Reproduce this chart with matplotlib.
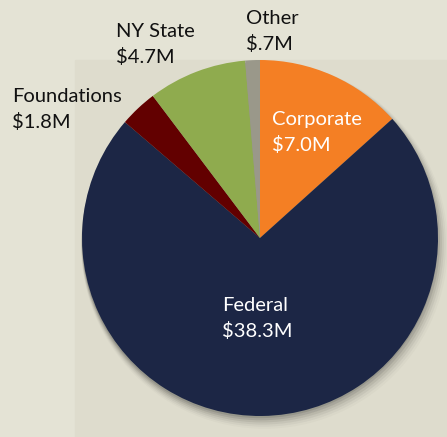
import numpy as np
import matplotlib.pyplot as plt
from matplotlib.patches import Rectangle, Circle

# -----------------------
# Data
# -----------------------
sources = ['Corporate', 'Federal', 'Foundations', 'NY State', 'Other']
amounts = [7.0, 38.3, 1.8, 4.7, 0.7]
amount_labels = ['$7.0M', '$38.3M', '$1.8M', '$4.7M', '$.7M']
colors = ['#f47f24', '#1c2645', '#620000', '#8fab4e', '#9a988a']

# label anchor (left edge, first baseline) in pixels from top-left, text colour
label_pos = {
    'Corporate': (272, 125, 'white'),
    'Federal': (222, 311, 'white'),
    'Foundations': (12, 102, '#111111'),
    'NY State': (116, 37, '#111111'),
    'Other': (246, 24, '#111111'),
}
LINE_PITCH = 26

W, H = 447, 437
plt.rcParams['font.family'] = ['Lato', 'DejaVu Sans']

fig = plt.figure(figsize=(W / 100, H / 100), dpi=100)
fig.patch.set_facecolor('#e4e3d5')
# slightly darker panel behind the pie
fig.patches.append(Rectangle((75 / W, 0), 1 - 75 / W, 1 - 60 / H,
                             transform=fig.transFigure, color='#dedccd', zorder=-5))

cx, cy, r = 260, 238, 178
ax = fig.add_axes([(cx - r) / W, (H - cy - r) / H, 2 * r / W, 2 * r / H])
ax.set_zorder(1)
ax.patch.set_visible(False)

# soft drop shadow
for i, a in enumerate(np.linspace(0.10, 0.02, 6)):
    ax.add_patch(Circle((0.005 * i, -0.012 - 0.006 * i), 1.0 + 0.006 * i,
                        color='black', alpha=a, lw=0, zorder=0, clip_on=False))

ax.pie(amounts, colors=colors, startangle=90, counterclock=False, radius=1,
       wedgeprops=dict(linewidth=0, zorder=2), frame=False)
ax.set_xlim(-1, 1); ax.set_ylim(-1, 1)
ax.set_aspect('equal')
ax.axis('off')

for name, amt in zip(sources, amount_labels):
    x, y, c = label_pos[name]
    for k, line in enumerate([name, amt]):
        fig.text(x / W, 1 - (y + k * LINE_PITCH) / H, line, ha='left',
                 va='baseline', fontsize=14.5, color=c, zorder=5)

fig.savefig('out.png', dpi=100, facecolor=fig.get_facecolor())
